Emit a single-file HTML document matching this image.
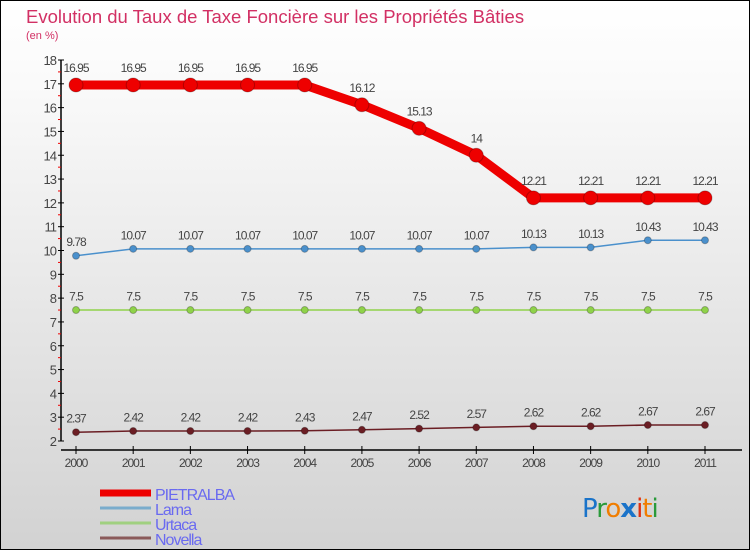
<!DOCTYPE html>
<html><head><meta charset="utf-8"><style>
body{margin:0}
#c{width:750px;height:550px;position:relative;overflow:hidden;box-sizing:border-box;border:1px solid #000;background:linear-gradient(#fff,#fafafa 15%,#d2d2d2);font-family:"Liberation Sans",sans-serif}
</style></head><body>
<div id="c">
<svg id="s" width="750" height="550" style="position:absolute;left:-1px;top:-1px">
<text x="26" y="23" font-size="18.5" fill="#d23064">Evolution du Taux de Taxe Foncière sur les Propriétés Bâties</text>
<text x="26" y="39" font-size="11" fill="#d23064">(en %)</text>
<text x="582" y="517" font-size="26" font-family="'DejaVu Sans',sans-serif" letter-spacing="-1"><tspan fill="#1a73c9">P</tspan><tspan fill="#2a9a3a">r</tspan><tspan fill="#f07d00">o</tspan><tspan fill="#1a73c9" font-weight="bold">x</tspan><tspan fill="#e03010">i</tspan><tspan fill="#f07d00">t</tspan><tspan fill="#2a9a3a">i</tspan></text>
</svg>
</div>
<script>
const years=["2000","2001","2002","2003","2004","2005","2006","2007","2008","2009","2010","2011"];
const pietralba=[16.95,16.95,16.95,16.95,16.95,16.12,15.13,14,12.21,12.21,12.21,12.21];
const lama=[9.78,10.07,10.07,10.07,10.07,10.07,10.07,10.07,10.13,10.13,10.43,10.43];
const urtaca=[7.5,7.5,7.5,7.5,7.5,7.5,7.5,7.5,7.5,7.5,7.5,7.5];
const novella=[2.37,2.42,2.42,2.42,2.43,2.47,2.52,2.57,2.62,2.62,2.67,2.67];
const yTicks=[2,3,4,5,6,7,8,9,10,11,12,13,14,15,16,17,18];
const seriesNames=["PIETRALBA","Lama","Urtaca","Novella"];
const s=document.getElementById('s');const NS='http://www.w3.org/2000/svg';
function x(i){return 76+i*(705-76)/11;}
function y(v){return 441-(v-2)*(381/16);}
function el(t,a,p){const e=document.createElementNS(NS,t);for(const k in a)e.setAttribute(k,a[k]);(p||s).appendChild(e);return e;}
let ya=el('line',{x1:61,y1:60,x2:61,y2:441,stroke:'#000','stroke-width':1.5});


yTicks.forEach(v=>{
 el('line',{x1:58,x2:64,y1:y(v),y2:y(v),stroke:'#000'});
 if(v<18){el('line',{x1:58,x2:61,y1:y(v+0.5),y2:y(v+0.5),stroke:'#e00'});}
 let t=el('text',{x:56,y:y(v)+5,'text-anchor':'end','font-size':13,fill:'#444','letter-spacing':'-1'});t.textContent=v;
 
 
});
let xa=el('line',{x1:61,y1:450,x2:742,y2:450,stroke:'#000','stroke-width':1.5});


years.forEach((yr,i)=>{
 el('line',{x1:x(i),x2:x(i),y1:446,y2:454,stroke:'#000'});
 let t=el('text',{x:x(i),y:467,'text-anchor':'middle','font-size':12,fill:'#444','letter-spacing':'-1'});t.textContent=yr;
 
 
});
function series(vals,color,w,r,name,lw){
 const g=el('g',{});
 
 
 el('polyline',{points:vals.map((v,i)=>x(i)+','+y(v)).join(' '),fill:'none',stroke:color,'stroke-width':lw,'stroke-linejoin':'round'},g);
 vals.forEach((v,i)=>{
  let c=el('circle',{cx:x(i),cy:y(v),r:r,fill:color,stroke:'rgba(0,0,0,0.25)','stroke-width':1},g);
  
  
  let t=el('text',{x:x(i),y:y(v)-r-6,'text-anchor':'middle','font-size':12,fill:'#444','letter-spacing':'-1'},g);t.textContent=v;
  
  
 });
}
series(novella,'#6b1e24',1,3.5,'novella',1.5);
series(urtaca,'#8fd24a',1,3.5,'urtaca',1.5);
series(lama,'#4a90cc',1,3.5,'lama',1.5);
series(pietralba,'#ee0000',1,7,'pietralba',9);
const lc=['#ee0000','#7aaccc','#a0d080','#8a5a5a'],lwid=[7,3,3,3],ly=[493,508,523,538];
seriesNames.forEach((n,i)=>{
 const g=el('g',{});
 
 
 el('line',{x1:100,x2:151,y1:ly[i],y2:ly[i],stroke:lc[i],'stroke-width':lwid[i]},g);
 let t=el('text',{x:155,y:ly[i]+7,'font-size':16,fill:'#6a6af0','letter-spacing':'-1'},g);t.textContent=n;
});
</script>
</body></html>
